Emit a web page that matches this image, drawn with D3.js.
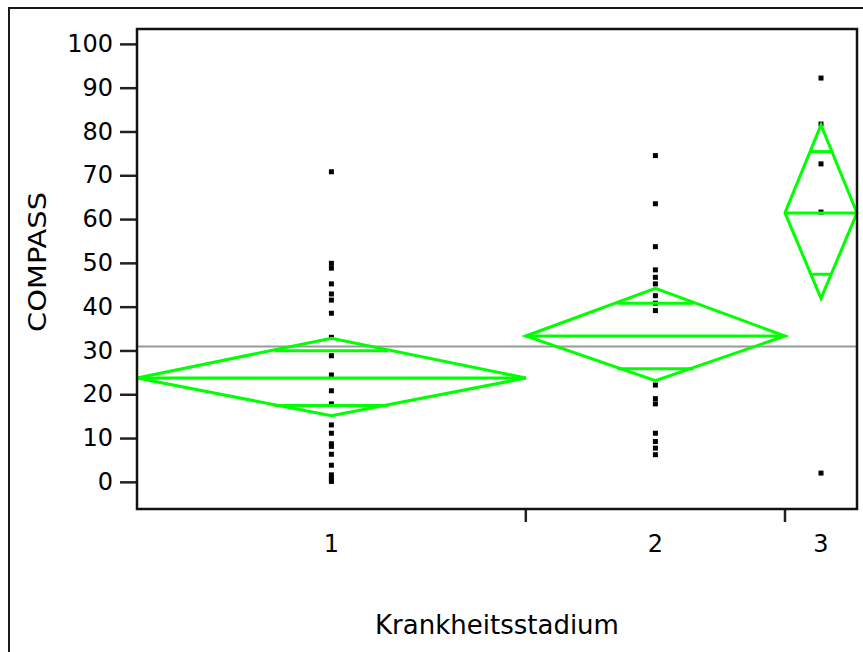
<!DOCTYPE html>
<html>
<head>
<meta charset="utf-8">
<script src="https://cdn.jsdelivr.net/npm/d3@7"></script>
<style>
    body { margin: 0; background: #fff; }
    text { font-family: "DejaVu Sans", sans-serif; fill: #000; }
</style>
</head>
<body>
<div id="chart"></div>
<script>

// Groups (Krankheitsstadium) and sample sizes -> group widths
var stages = ["1", "2", "3"];
var counts = [27, 18, 5];

// Group means and 95% CI bounds (diamonds)
var means = [23.7, 33.3, 61.4];
var ciLow = [15.1, 23.1, 41.9];
var ciHigh = [32.8, 44.2, 81.5];

// Grand mean (grey line)
var grandMean = 30.9;

// Raw COMPASS values per stage
var stage1 = [70.8, 49.9, 48.8, 45.2, 42.9, 41.5, 38.5, 33.0, 28.8, 24.4, 20.8,
    17.8, 13.0, 11.1, 8.7, 8.1, 6.3, 3.8, 1.6, 0.8, 0.1];
var stage2 = [74.5, 63.5, 53.7, 48.4, 46.7, 45.2, 42.5, 40.8, 39.1, 22.1, 19.0,
    17.8, 11.1, 9.2, 7.7, 6.2];
var stage3 = [92.2, 81.7, 72.6, 61.6, 2.0];

var yTicks = [0, 10, 20, 30, 40, 50, 60, 70, 80, 90, 100];

var W = 863, H = 652;
var margin = { top: 29, right: 6, bottom: 143, left: 137 };
var width = W - margin.left - margin.right;
var height = H - margin.top - margin.bottom;

var svg = d3.select("#chart").append("svg")
    .attr("width", W)
    .attr("height", H);

// outer frame (only left / top visible)
svg.append("path")
    .attr("d", "M9," + (H + 5) + "V8H" + (W + 5))
    .attr("fill", "none")
    .attr("stroke", "#1a1a1a")
    .attr("stroke-width", 2);

var g = svg.append("g")
    .attr("transform", "translate(" + margin.left + "," + margin.top + ")");

// Scales
var cum = [0];
counts.forEach(function (c, i) { cum.push(cum[i] + c); });

var x = d3.scaleLinear()
    .domain([0, d3.sum(counts)])
    .range([0, width]);

var y = d3.scaleLinear()
    .domain([-6.2, 103.4])
    .range([height, 0]);

var groups = stages.map(function (s, i) {
    return {
        stage: s,
        x0: x(cum[i]),
        x1: x(cum[i + 1]),
        mean: means[i],
        lo: ciLow[i],
        hi: ciHigh[i],
        values: [stage1, stage2, stage3][i]
    };
});

// Y axis
var yAxis = d3.axisLeft(y)
    .tickValues(yTicks)
    .tickSize(17)
    .tickPadding(7);

var yG = g.append("g").attr("class", "y-axis").call(yAxis);
yG.select(".domain").remove();
yG.selectAll(".tick line").attr("stroke", "#222").attr("stroke-width", 2.5);
yG.selectAll(".tick text").style("font-size", "24px").attr("fill", "#000");

// X axis: ticks between groups, labels at group centres
var xG = g.append("g")
    .attr("class", "x-axis")
    .attr("transform", "translate(0," + height + ")");

xG.selectAll(".sep")
    .data(groups.slice(0, -1))
    .enter().append("line")
    .attr("class", "sep")
    .attr("x1", function (d) { return d.x1; })
    .attr("x2", function (d) { return d.x1; })
    .attr("y1", 0)
    .attr("y2", 13)
    .attr("stroke", "#222")
    .attr("stroke-width", 2.5);

xG.selectAll(".lab")
    .data(groups)
    .enter().append("text")
    .attr("class", "lab")
    .attr("x", function (d) { return (d.x0 + d.x1) / 2; })
    .attr("y", 43)
    .attr("text-anchor", "middle")
    .style("font-size", "24px")
    .text(function (d) { return d.stage; });

// grand mean
g.append("line")
    .attr("x1", 0)
    .attr("x2", width)
    .attr("y1", y(grandMean))
    .attr("y2", y(grandMean))
    .attr("stroke", "#999")
    .attr("stroke-width", 2);

// points
groups.forEach(function (d) {
    var cx = (d.x0 + d.x1) / 2;
    g.selectAll(null)
        .data(d.values)
        .enter().append("rect")
        .attr("x", cx - 2.5)
        .attr("y", function (v) { return y(v) - 2.5; })
        .attr("width", 5)
        .attr("height", 5)
        .attr("fill", "#000");
});

// means diamonds with overlap marks
var green = "#00ff00";
groups.forEach(function (d) {
    var cx = (d.x0 + d.x1) / 2;
    var hw = (d.x1 - d.x0) / 2;
    var half = (d.hi - d.lo) / 2;
    var ov = half / Math.SQRT2;
    var ow = hw * (1 - 1 / Math.SQRT2);

    g.append("path")
        .attr("d", "M" + d.x0 + "," + y(d.mean) +
            "L" + cx + "," + y(d.hi) +
            "L" + d.x1 + "," + y(d.mean) +
            "L" + cx + "," + y(d.lo) + "Z")
        .attr("fill", "none")
        .attr("stroke", green)
        .attr("stroke-width", 3);

    g.append("line")
        .attr("x1", d.x0).attr("x2", d.x1)
        .attr("y1", y(d.mean)).attr("y2", y(d.mean))
        .attr("stroke", green).attr("stroke-width", 3);

    [d.mean + ov, d.mean - ov].forEach(function (v) {
        g.append("line")
            .attr("x1", cx - ow).attr("x2", cx + ow)
            .attr("y1", y(v)).attr("y2", y(v))
            .attr("stroke", green).attr("stroke-width", 3);
    });
});

// plot frame
g.append("rect")
    .attr("width", width)
    .attr("height", height)
    .attr("fill", "none")
    .attr("stroke", "#111")
    .attr("stroke-width", 2.5);

// axis titles
svg.append("text")
    .attr("x", (margin.left + margin.left + width) / 2)
    .attr("y", 634)
    .attr("text-anchor", "middle")
    .style("font-size", "26px")
    .text("Krankheitsstadium");

svg.append("text")
    .attr("transform", "translate(46,262) rotate(-90)")
    .attr("text-anchor", "middle")
    .style("font-size", "25px")
    .attr("textLength", 140)
    .attr("lengthAdjust", "spacingAndGlyphs")
    .text("COMPASS");

</script>
</body>
</html>
